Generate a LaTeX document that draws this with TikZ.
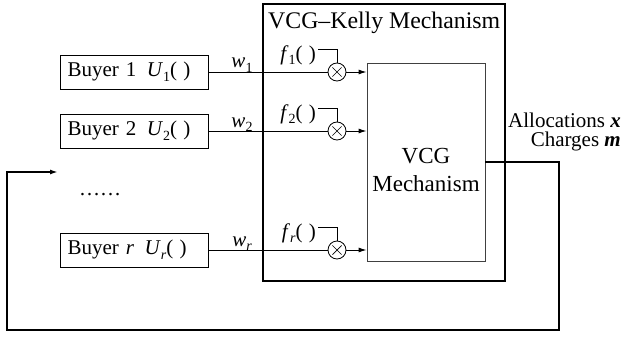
\documentclass[tikz,border=0pt]{standalone}
\usepackage{fontspec}
\setmainfont{Liberation Serif}
\usetikzlibrary{arrows.meta}
\newcommand{\sbs}[1]{\raisebox{-0.22em}{\fontsize{14}{14}\selectfont #1}}
\newcommand{\pp}{(\hspace{0.3em})}
\begin{document}
\begin{tikzpicture}[x=1pt,y=-1pt,
  txt/.style={font=\fontsize{21}{25}\selectfont, inner sep=0pt},
  bigtxt/.style={font=\fontsize{23}{28}\selectfont, inner sep=0pt, align=center},
  buyer/.style={draw, line width=0.9pt, text width=134pt, minimum height=34pt, inner xsep=7pt, inner ysep=0pt, align=left, font=\fontsize{21}{25}\selectfont},
  mult/.style={draw, circle, line width=0.8pt, minimum size=18pt, inner sep=0pt,
    path picture={\draw[line width=0.7pt] ([shift={(-4.6pt,-4.6pt)}]path picture bounding box.center) -- ([shift={(4.6pt,4.6pt)}]path picture bounding box.center);
                  \draw[line width=0.7pt] ([shift={(-4.6pt,4.6pt)}]path picture bounding box.center) -- ([shift={(4.6pt,-4.6pt)}]path picture bounding box.center);}},
  thin/.style={line width=0.9pt},
  heavy/.style={line width=1.8pt},
  arr/.style={-{Latex[length=8pt,width=5pt]}},
]
\useasboundingbox (0,0) rectangle (624,337);

% outer box
\node[draw, heavy, minimum width=242pt, minimum height=277pt, inner sep=0pt] (outer) at (384,142.5) {};
\node[inner sep=0pt, font=\fontsize{23.8}{28}\selectfont, anchor=base west] (title) at (268,29) {VCG\char"2013Kelly Mechanism};

% VCG box
\node[draw, line width=0.9pt, draw=black!75, minimum width=118pt, minimum height=198pt, inner sep=0pt] (vcg) at (426,162) {};
\node[bigtxt] (vcgtxt) at (426,170) {VCG\\Mechanism};

% buyers
\node[buyer] (b1) at (134.5,72) {Buyer 1\enspace\textit{U}\sbs{1}\pp};
\node[buyer] (b2) at (134.5,131) {Buyer 2\enspace\textit{U}\sbs{2}\pp};
\node[buyer] (br) at (134.5,250) {Buyer \textit{r}\enspace\textit{U}\sbs{\textit{r}}\pp};
\node[txt, anchor=base] (dots) at (100,195) {……};

% multipliers
\node[mult] (m1) at (337,72) {};
\node[mult] (m2) at (337,131) {};
\node[mult] (mr) at (337,250) {};

% w labels
\node[txt, anchor=base] (w1) at (242,68) {\textit{w}\sbs{1}};
\node[txt, anchor=base] (w2) at (242,127) {\textit{w}\sbs{2}};
\node[txt, anchor=base] (wr) at (242,246) {\textit{w}\sbs{\textit{r}}};

% f labels
\node[txt, anchor=base east] (f1) at (316,60) {\textit{f}\sbs{1}\pp};
\node[txt, anchor=base east] (f2) at (316,119) {\textit{f}\sbs{2}\pp};
\node[txt, anchor=base east] (fr) at (316,238) {\textit{f}\sbs{\textit{r}}\pp};
\coordinate (h1) at (318,49);
\coordinate (h2) at (318,108);
\coordinate (hr) at (318,227);

% connections
\draw[thin] (b1.east) -- (m1.west);
\draw[thin] (b2.east) -- (m2.west);
\draw[thin] (br.east) -- (mr.west);
\draw[thin] (h1) -| (m1.north);
\draw[thin] (h2) -| (m2.north);
\draw[thin] (hr) -| (mr.north);
\draw[thin, arr] (m1.east) -- (m1.east -| vcg.west);
\draw[thin, arr] (m2.east) -- (m2.east -| vcg.west);
\draw[thin, arr] (mr.east) -- (mr.east -| vcg.west);

% outputs
\node[txt, anchor=base east] (alloc) at (621,127) {Allocations \textbf{\textit{x}}};
\node[txt, anchor=base east] (charg) at (621,146) {Charges \textbf{\textit{m}}};

% feedback
\coordinate (fbR) at (559,330);
\coordinate (fbL) at (7,172);
\coordinate (fbT) at (58,172);
\draw[heavy, arr] (vcg.east) -| (fbR) -| (fbL) -- (fbT);
\end{tikzpicture}
\end{document}
